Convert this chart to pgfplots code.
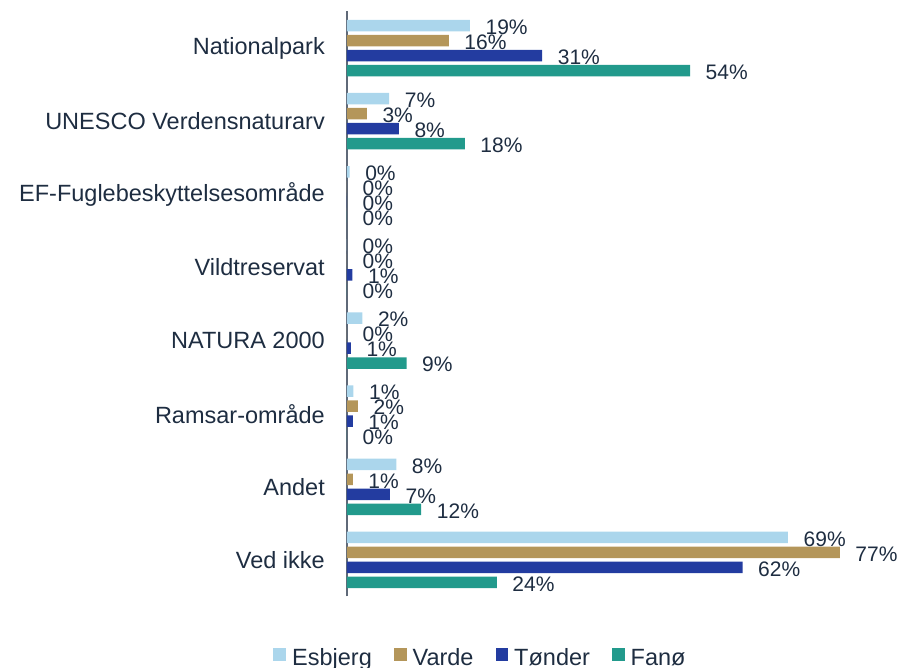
\documentclass[border=0pt]{standalone}
\usepackage{pgfplots}
\pgfplotsset{compat=1.18}
\usepackage{fontspec}
\setmainfont{Liberation Sans}
\definecolor{cEsb}{RGB}{171,214,236}
\definecolor{cVar}{RGB}{180,150,90}
\definecolor{cTon}{RGB}{35,60,160}
\definecolor{cFan}{RGB}{34,154,140}
\definecolor{txt}{RGB}{30,45,65}
\definecolor{axg}{RGB}{95,105,120}
\begin{document}
\begin{tikzpicture}
\begin{axis}[
  xbar, scale only axis, width=544pt, height=585pt,
  xmin=0, xmax=85, ymin=-0.5, ymax=7.5,
  axis x line=none, axis y line*=left,
  y axis line style={draw=axg, line width=1.3pt},
  ytick={0,...,7},
  yticklabels={Ved ikke, Andet, Ramsar-område, NATURA 2000, Vildtreservat, EF-Fuglebeskyttelsesområde, UNESCO Verdensnaturarv, Nationalpark},
  yticklabel style={font=\fontsize{23.5}{28}\selectfont, text=txt, inner sep=0pt, xshift=-22pt},
  major tick length=0pt,
  bar width=11.4pt,
  point meta=explicit symbolic,
  nodes near coords={\pgfplotspointmeta\%},
  every node near coord/.append style={anchor=west, inner sep=0pt, xshift=15.5pt, yshift=-1.5pt, font=\fontsize{21}{25}\selectfont, text=txt},
  legend columns=4,
  legend image code/.code={\fill[#1,draw=none] (0pt,-2.8pt) rectangle (12.7pt,9.9pt);},
  legend style={draw=none, fill=none, at={(axis description cs:0.2436,-0.105)}, anchor=center,
    font=\fontsize{23.5}{28}\selectfont, text=txt, nodes={inner sep=0pt},
    /tikz/every odd column/.style={column sep=6pt},
    /tikz/every even column/.style={column sep=22pt}},
]
\addplot[fill=cEsb, draw=none, bar shift=22.5pt] table[x=x, y=y, meta=m] {
x y m
19.2 7 19
6.6 6 7
0.4 5 0
0 4 0
2.4 3 2
1.0 2 1
7.7 1 8
68.9 0 69
};
\addplot[fill=cVar, draw=none, bar shift=7.5pt] table[x=x, y=y, meta=m] {
x y m
15.9 7 16
3.1 6 3
0 5 0
0 4 0
0 3 0
1.7 2 2
0.9 1 1
77.0 0 77
};
\addplot[fill=cTon, draw=none, bar shift=-7.5pt] table[x=x, y=y, meta=m] {
x y m
30.5 7 31
8.1 6 8
0 5 0
0.85 4 1
0.6 3 1
0.9 2 1
6.7 1 7
61.8 0 62
};
\addplot[fill=cFan, draw=none, bar shift=-22.5pt] table[x=x, y=y, meta=m] {
x y m
53.6 7 54
18.4 6 18
0 5 0
0 4 0
9.3 3 9
0 2 0
11.6 1 12
23.4 0 24
};
\legend{Esbjerg, Varde, Tønder, Fanø}
\end{axis}
\pgfresetboundingbox
\path[use as bounding box] (-347pt,-71.5pt) rectangle (556pt,596.5pt);
\end{tikzpicture}
\end{document}
